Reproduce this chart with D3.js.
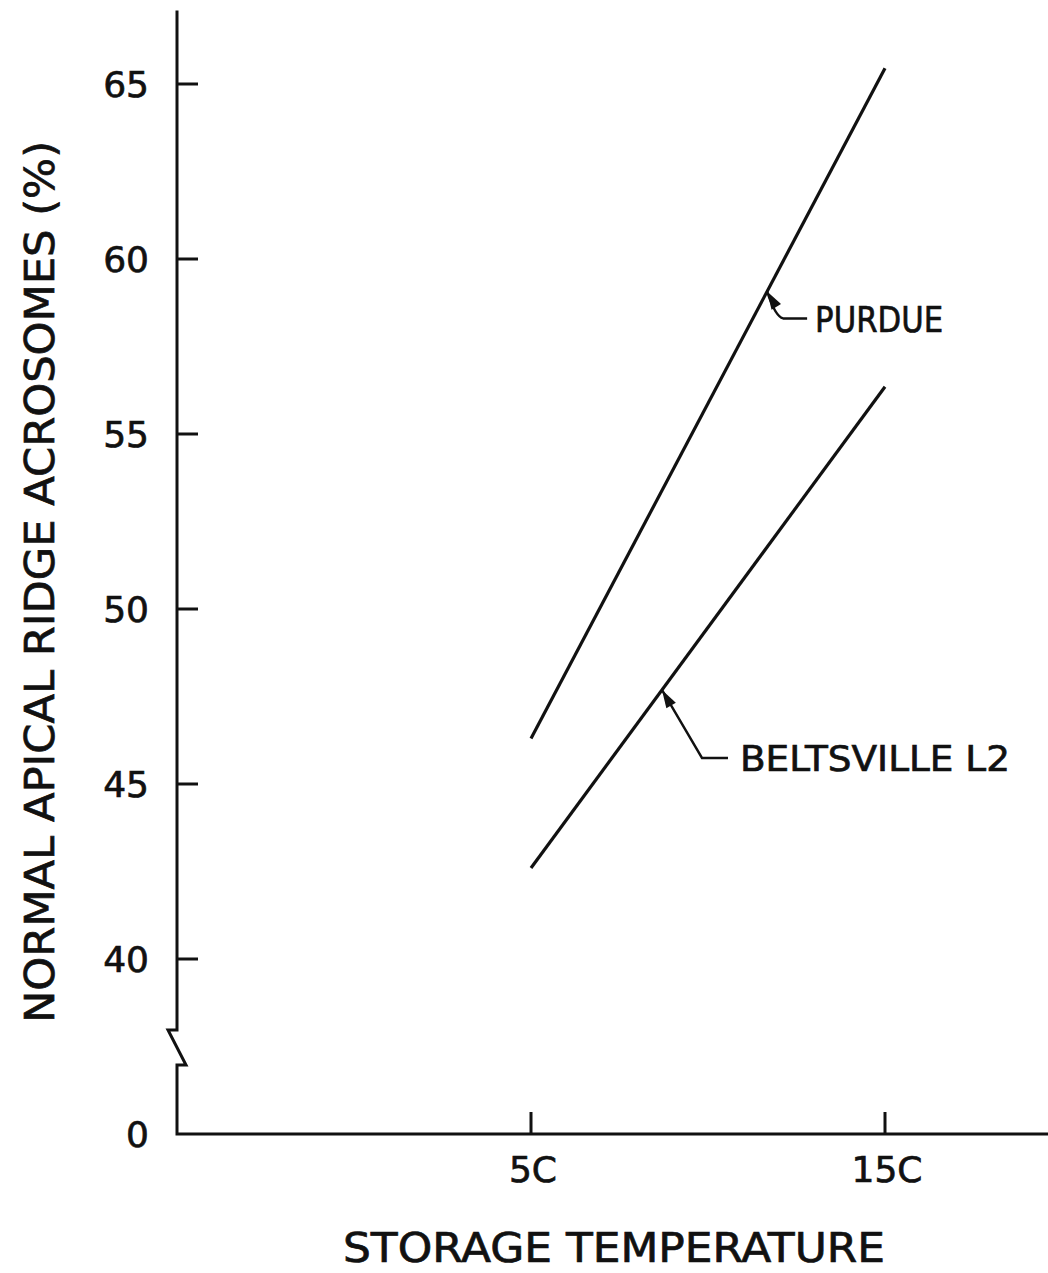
<!DOCTYPE html>
<html>
<head>
<meta charset="utf-8">
<script src="https://cdn.jsdelivr.net/npm/d3@7/dist/d3.min.js"></script>
<style>
  html, body { margin: 0; padding: 0; background: #fff; }
  svg { display: block; }
  text { stroke: #111; stroke-width: 0.7px; }
</style>
</head>
<body>
<div id="chart"></div>
<script>
var temps = [5, 15];
var tempLabels = ["5C", "15C"];
var purdue = [46.3, 65.45];
var beltsville = [42.6, 56.35];
var yTicks = [40, 45, 50, 55, 60, 65];

var series = [
  {name: "PURDUE", values: purdue, at: 11.67},
  {name: "BELTSVILLE L2", values: beltsville, at: 8.7}
];

(function () {
  var width = 1048, height = 1273;
  var ink = "#111";
  var font = "'DejaVu Sans', 'Liberation Sans', sans-serif";

  var svg = d3.select("#chart").append("svg")
    .attr("width", width)
    .attr("height", height);

  // y: the value 35 stands in for the broken "0" at the bottom of the axis
  var y = d3.scaleLinear().domain([35, 65]).range([1134, 84]);
  var x = d3.scaleLinear().domain([-5, 15]).range([177, 885]);
  var x0 = x(-5), yBase = y(35);

  // axes
  var axis = svg.append("g")
    .attr("fill", "none")
    .attr("stroke", ink)
    .attr("stroke-width", 3)
    .attr("stroke-linejoin", "miter");

  axis.append("path")
    .attr("d", "M" + x0 + "," + y(67.1) + "V1030H168L186,1065H" + x0 + "V" + yBase + "H" + width);

  axis.selectAll("line.yt")
    .data(yTicks)
    .join("line")
    .attr("x1", x0).attr("x2", x0 + 21)
    .attr("y1", function (d) { return y(d); })
    .attr("y2", function (d) { return y(d); });

  axis.selectAll("line.xt")
    .data(temps)
    .join("line")
    .attr("x1", function (d) { return x(d); })
    .attr("x2", function (d) { return x(d); })
    .attr("y1", yBase).attr("y2", yBase - 22);

  var yLabels = yTicks.map(String).concat(["0"]);
  var yVals = yTicks.concat([35]);
  svg.append("g").selectAll("text")
    .data(yVals)
    .join("text")
    .attr("x", 149)
    .attr("y", function (d) { return y(d); })
    .attr("dy", "0.36em")
    .attr("text-anchor", "end")
    .attr("font-family", font)
    .attr("font-size", 36)
    .attr("fill", ink)
    .text(function (d, i) { return yLabels[i]; });

  svg.append("g").selectAll("text")
    .data(temps)
    .join("text")
    .attr("x", function (d) { return x(d) + 2; })
    .attr("y", 1182)
    .attr("text-anchor", "middle")
    .attr("font-family", font)
    .attr("font-size", 36)
    .attr("fill", ink)
    .text(function (d, i) { return tempLabels[i]; });

  svg.append("text")
    .attr("x", 343).attr("y", 1262)
    .attr("font-family", font)
    .attr("font-size", 40)
    .attr("fill", ink)
    .attr("textLength", 542)
    .attr("lengthAdjust", "spacingAndGlyphs")
    .text("STORAGE TEMPERATURE");

  svg.append("text")
    .attr("transform", "translate(54,1023) rotate(-90)")
    .attr("font-family", font)
    .attr("font-size", 41)
    .attr("fill", ink)
    .attr("textLength", 882)
    .attr("lengthAdjust", "spacingAndGlyphs")
    .text("NORMAL APICAL RIDGE ACROSOMES (%)");

  // regression lines
  var line = d3.line()
    .x(function (d, i) { return x(temps[i]); })
    .y(function (d) { return y(d); });

  svg.append("g").selectAll("path")
    .data(series)
    .join("path")
    .attr("fill", "none")
    .attr("stroke", ink)
    .attr("stroke-width", 3.2)
    .attr("d", function (s) { return line(s.values); });

  // labels with arrow leaders
  function valueAt(s, t) {
    var f = (t - temps[0]) / (temps[1] - temps[0]);
    return s.values[0] + f * (s.values[1] - s.values[0]);
  }

  var leaders = [
    {bend: [16, 27], end: [40, 28], text: [48, 28], len: 128},
    {bend: [40, 68], end: [66, 68], text: [78, 68], len: 270}
  ];

  series.forEach(function (s, i) {
    var tx = x(s.at), ty = y(valueAt(s, s.at));
    var L = leaders[i];
    var bx = tx + L.bend[0], by = ty + L.bend[1];
    var g = svg.append("g");
    var path = i === 0
      ? "M" + tx + "," + ty + "Q" + (tx + 8) + "," + (by - 2) + " " + bx + "," + by + "H" + (tx + L.end[0])
      : "M" + tx + "," + ty + "L" + bx + "," + by + "H" + (tx + L.end[0]);
    g.append("path")
      .attr("d", path)
      .attr("fill", "none")
      .attr("stroke", ink)
      .attr("stroke-width", 2.4);

    var ang = Math.atan2(by - ty, bx - tx);
    var hl = 18, hw = 5.5;
    var ax = tx + Math.cos(ang) * hl, ay = ty + Math.sin(ang) * hl;
    var px = -Math.sin(ang) * hw, py = Math.cos(ang) * hw;
    g.append("path")
      .attr("d", "M" + tx + "," + ty + "L" + (ax + px) + "," + (ay + py) + "L" + (ax - px) + "," + (ay - py) + "Z")
      .attr("fill", ink);

    g.append("text")
      .attr("x", tx + L.text[0])
      .attr("y", ty + L.text[1])
      .attr("dy", "0.36em")
      .attr("font-family", font)
      .attr("font-size", 35)
      .attr("fill", ink)
      .attr("textLength", L.len)
      .attr("lengthAdjust", "spacingAndGlyphs")
      .text(s.name);
  });
}());
</script>
</body>
</html>
